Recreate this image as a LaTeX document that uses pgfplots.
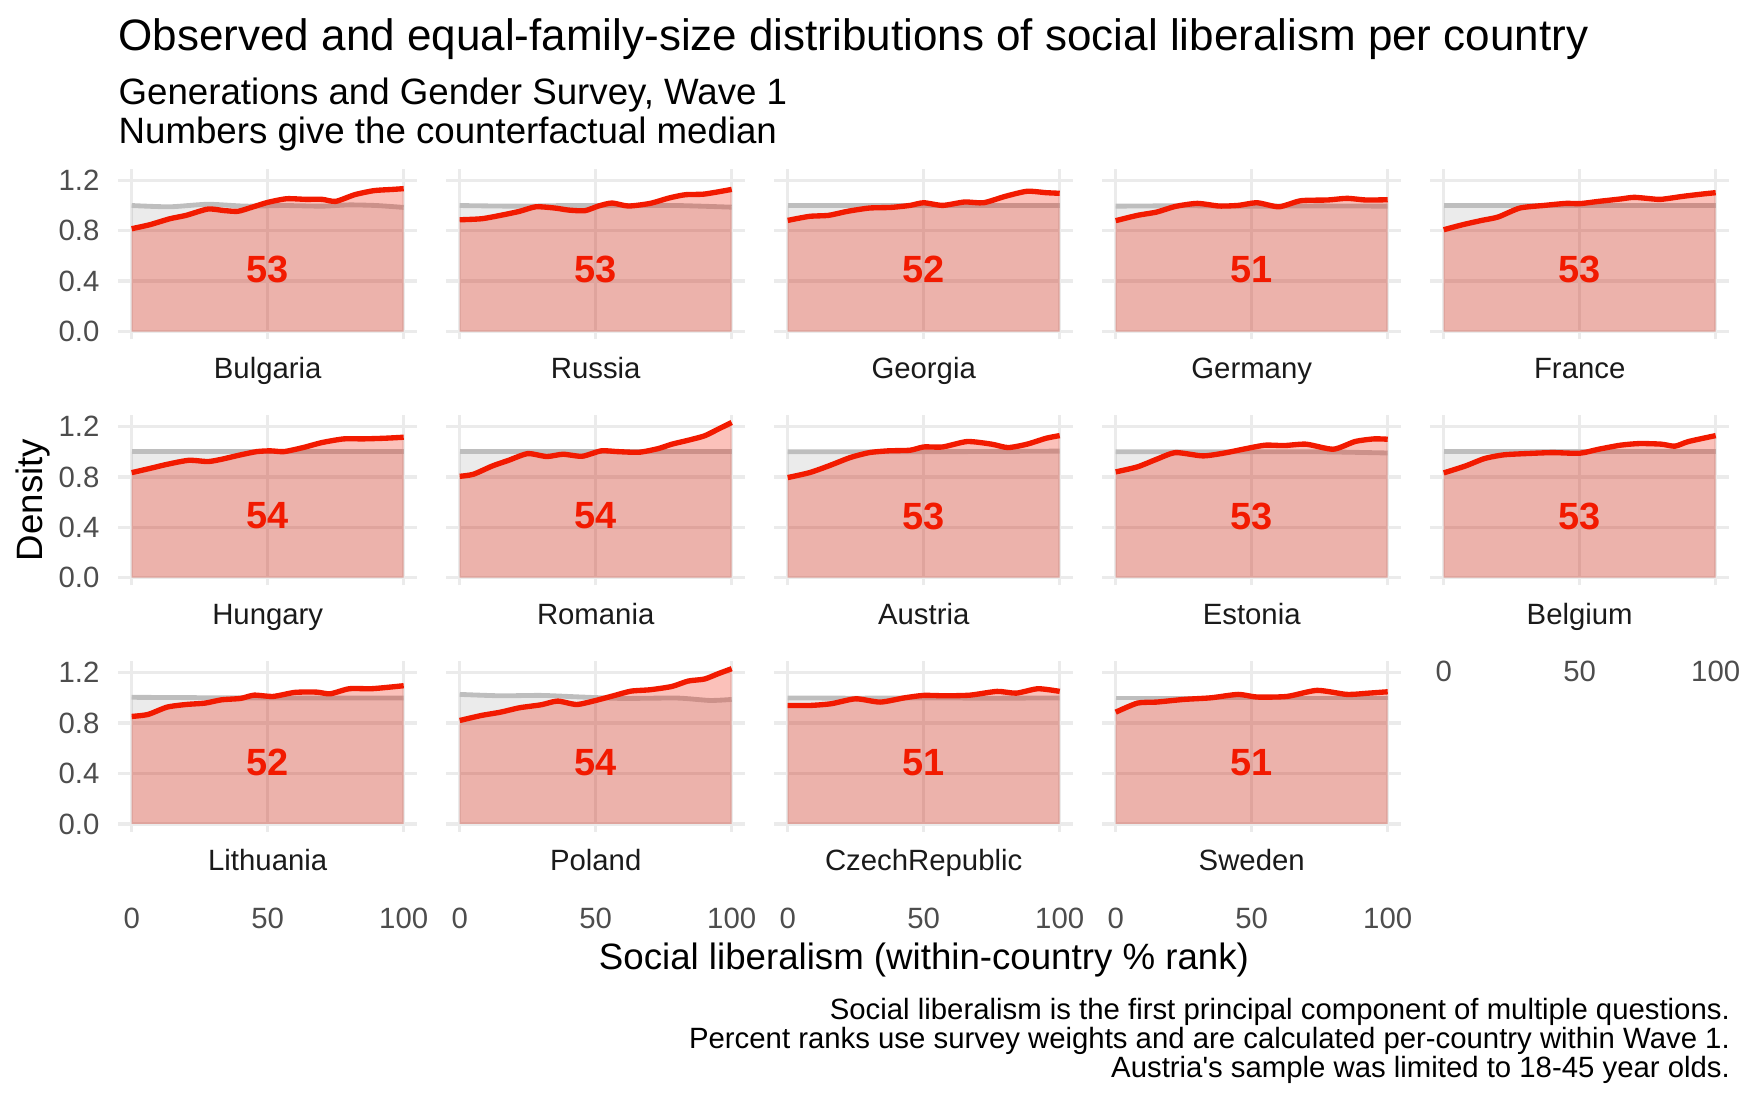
\documentclass[border=0pt]{standalone}
\usepackage{fontspec}
\setmainfont{Liberation Sans}[Ligatures=TeXOff]
\usepackage{pgfplots}
\pgfplotsset{compat=1.18}
\usepackage{pgfplotstable}
\definecolor{redl}{HTML}{F21A00}
\definecolor{grey92}{HTML}{EBEBEB}
\definecolor{grey30}{HTML}{4D4D4D}
\definecolor{grey10}{HTML}{1A1A1A}
\definecolor{greyl}{HTML}{BEBEBE}

\pgfplotstableread{
x y
0 0.816
6.7 0.848
14 0.895
20 0.922
28 0.972
34 0.960
39 0.954
44 0.985
50 1.025
57 1.054
64 1.049
70 1.049
75 1.033
82 1.086
89 1.118
96 1.128
100 1.134
}\tBG
\pgfplotstableread{
x y
0 0.887
8 0.895
15 0.922
22 0.954
28 0.990
35 0.980
40 0.964
46 0.959
51 0.996
56 1.020
62 0.996
70 1.017
77 1.060
83 1.086
90 1.091
100 1.128
}\tRU
\pgfplotstableread{
x y
0 0.882
8 0.914
15 0.922
22 0.954
30 0.980
38 0.985
45 1.001
50 1.022
57 1.001
65 1.028
72 1.022
80 1.073
88 1.113
95 1.102
100 1.097
}\tGE
\pgfplotstableread{
x y
0 0.880
8 0.922
15 0.948
22 0.993
30 1.017
38 0.996
45 1.001
52 1.022
60 0.990
68 1.038
78 1.044
85 1.057
92 1.044
100 1.046
}\tDE
\pgfplotstableread{
x y
0 0.808
7 0.848
14 0.882
20 0.909
28 0.980
37 1.001
45 1.017
50 1.015
57 1.033
65 1.052
70 1.065
77 1.052
80 1.049
88 1.073
95 1.091
100 1.102
}\tFR
\pgfplotstableread{
x y
0 0.834
7 0.869
13 0.900
21 0.932
28 0.922
33 0.940
40 0.975
46 1.001
51 1.007
56 1.001
63 1.033
70 1.073
78 1.102
85 1.102
93 1.107
100 1.115
}\tHU
\pgfplotstableread{
x y
0 0.805
5 0.821
12 0.887
18 0.932
25 0.985
32 0.962
38 0.980
45 0.964
52 1.007
58 1.001
66 0.996
73 1.025
78 1.060
84 1.091
90 1.126
95 1.179
100 1.232
}\tRO
\pgfplotstableread{
x y
0 0.795
8 0.834
15 0.887
23 0.954
30 0.993
37 1.007
45 1.012
50 1.038
57 1.038
66 1.081
75 1.060
81 1.033
88 1.060
95 1.107
100 1.128
}\tAT
\pgfplotstableread{
x y
0 0.840
8 0.880
15 0.940
22 0.993
32 0.967
40 0.990
48 1.025
55 1.052
62 1.049
70 1.060
80 1.020
88 1.081
95 1.102
100 1.099
}\tEE
\pgfplotstableread{
x y
0 0.832
8 0.887
15 0.946
22 0.975
30 0.985
40 0.993
50 0.988
57 1.020
65 1.052
72 1.065
80 1.060
85 1.044
90 1.081
100 1.128
}\tBE
\pgfplotstableread{
x y
0 0.853
6 0.869
13 0.927
20 0.948
27 0.959
33 0.985
40 0.996
45 1.022
52 1.012
60 1.044
68 1.046
73 1.033
80 1.073
88 1.073
95 1.086
100 1.097
}\tLT
\pgfplotstableread{
x y
0 0.821
8 0.861
15 0.887
22 0.922
30 0.946
36 0.975
43 0.948
50 0.980
57 1.020
63 1.054
70 1.065
78 1.091
84 1.134
90 1.150
95 1.192
100 1.232
}\tPL
\pgfplotstableread{
x y
0 0.940
8 0.940
16 0.954
25 0.993
34 0.967
43 1.001
50 1.020
58 1.017
67 1.022
77 1.052
84 1.038
92 1.073
100 1.052
}\tCZ
\pgfplotstableread{
x y
0 0.887
8 0.959
15 0.967
25 0.988
35 1.001
45 1.028
52 1.007
63 1.012
74 1.060
85 1.028
93 1.038
100 1.049
}\tSE

\pgfplotsset{
  panel/.style={
    scale only axis, width=89.76pt, height=51.09pt,
    xmin=-5, xmax=105, ymin=-0.0615, ymax=1.29,
    xtick={0,50,100}, ytick={0,0.4,0.8,1.2},
    xticklabels={}, yticklabels={},
    grid=major, major grid style={color=grey92, line width=1pt},
    axis line style={draw=none}, major tick length=0pt,
    anchor=south west, clip=false,
    ticklabel style={font=\fontsize{8.8}{10}\selectfont, text=grey30},
  },
  ylab/.style={yticklabels={0.0,0.4,0.8,1.2},
    yticklabel style={anchor=east, inner sep=0pt, xshift=-5.4pt}},
  xlab/.style={xticklabels={0,50,100},
    xticklabel style={anchor=base, inner sep=0pt, yshift=-28.9pt}},
}

% #1 extra options, #2 position, #3 table, #4 grey coordinates, #5 median, #6 country
\newcommand{\panel}[6]{%
  \begin{axis}[panel,#1,at={(#2)}]
    \addplot[draw=none, fill=black, fill opacity=0.08, smooth, tension=0.4] coordinates {#4} \closedcycle;
    \addplot[color=greyl, line width=1.45pt, smooth, tension=0.4] coordinates {#4};
    \addplot[draw=none, fill=redl, fill opacity=0.27, smooth, tension=0.4] table[x=x,y=y] {#3} \closedcycle;
    \addplot[color=redl, line width=1.6pt, smooth, tension=0.4] table[x=x,y=y] {#3};
    \node[text=redl, font=\bfseries\fontsize{11.38}{12}\selectfont] at (axis cs:50,0.49) {#5};
    \node[anchor=base, yshift=-11.7pt, text=grey10, font=\fontsize{8.8}{10}\selectfont] at (axis cs:50,-0.0615) {#6};
  \end{axis}%
}

\begin{document}
\begin{tikzpicture}
% titles
\node[anchor=base west, inner sep=0pt, font=\fontsize{13.2}{15}\selectfont] at (35.4pt,-15.2pt) {Observed and equal-family-size distributions of social liberalism per country};
\node[anchor=base west, inner sep=0pt, font=\fontsize{11}{13}\selectfont] at (35.4pt,-31.4pt) {Generations and Gender Survey, Wave 1};
\node[anchor=base west, inner sep=0pt, font=\fontsize{11}{13}\selectfont] at (35.4pt,-43.2pt) {Numbers give the counterfactual median};

% row 1
\panel{ylab}{35.43pt,-101.79pt}{\tBG}{(0,1.0) (14,0.99) (28,1.01) (42,0.995) (56,1.0) (70,0.995) (80,1.005) (90,1.0) (100,0.985)}{53}{Bulgaria}
\panel{}{133.83pt,-101.79pt}{\tRU}{(0,1.0) (20,0.995) (40,1.0) (60,1.0) (80,1.0) (100,0.987)}{53}{Russia}
\panel{}{232.23pt,-101.79pt}{\tGE}{(0,1.0) (25,1.0) (50,1.0) (75,1.0) (100,1.0)}{52}{Georgia}
\panel{}{330.63pt,-101.79pt}{\tDE}{(0,0.995) (25,0.998) (50,0.995) (75,0.997) (100,0.995)}{51}{Germany}
\panel{}{429.03pt,-101.79pt}{\tFR}{(0,1.0) (25,1.0) (50,1.0) (75,1.0) (100,1.0)}{53}{France}
% row 2
\panel{ylab}{35.43pt,-175.65pt}{\tHU}{(0,1.0) (25,1.0) (50,1.0) (75,1.0) (100,1.0)}{54}{Hungary}
\panel{}{133.83pt,-175.65pt}{\tRO}{(0,1.0) (25,1.0) (50,1.0) (75,1.0) (100,1.0)}{54}{Romania}
\panel{}{232.23pt,-175.65pt}{\tAT}{(0,1.0) (25,1.0) (50,1.0) (75,1.002) (100,1.005)}{53}{Austria}
\panel{}{330.63pt,-175.65pt}{\tEE}{(0,1.0) (25,1.0) (50,1.0) (75,1.0) (100,0.99)}{53}{Estonia}
\panel{xlab}{429.03pt,-175.65pt}{\tBE}{(0,1.0) (25,1.0) (50,1.0) (75,1.0) (100,1.0)}{53}{Belgium}
% row 3
\panel{ylab,xlab}{35.43pt,-249.51pt}{\tLT}{(0,1.005) (25,1.002) (50,1.0) (75,1.0) (100,1.0)}{52}{Lithuania}
\panel{xlab}{133.83pt,-249.51pt}{\tPL}{(0,1.028) (15,1.017) (30,1.02) (45,1.007) (60,0.996) (80,0.999) (92,0.98) (100,0.988)}{54}{Poland}
\panel{xlab}{232.23pt,-249.51pt}{\tCZ}{(0,1.0) (25,0.998) (50,1.0) (75,0.998) (100,1.0)}{51}{CzechRepublic}
\panel{xlab}{330.63pt,-249.51pt}{\tSE}{(0,1.0) (25,1.0) (50,1.0) (75,1.0) (100,1.0)}{51}{Sweden}

% axis titles
\node[rotate=90, font=\fontsize{11}{13}\selectfont] at (10.05pt,-150pt) {Density};
\node[anchor=base, inner sep=0pt, font=\fontsize{11}{13}\selectfont] at (277.2pt,-290.9pt) {Social liberalism (within-country \% rank)};

% caption
\node[anchor=base east, inner sep=0pt, font=\fontsize{8.8}{10}\selectfont] at (519.15pt,-306pt) {Social liberalism is the first principal component of multiple questions.};
\node[anchor=base east, inner sep=0pt, font=\fontsize{8.8}{10}\selectfont] at (519.15pt,-314.7pt) {Percent ranks use survey weights and are calculated per-country within Wave 1.};
\node[anchor=base east, inner sep=0pt, font=\fontsize{8.8}{10}\selectfont] at (519.15pt,-323.4pt) {Austria's sample was limited to 18-45 year olds.};

\pgfresetboundingbox
\useasboundingbox (0pt,0pt) rectangle (525pt,-330.6pt);
\end{tikzpicture}
\end{document}
